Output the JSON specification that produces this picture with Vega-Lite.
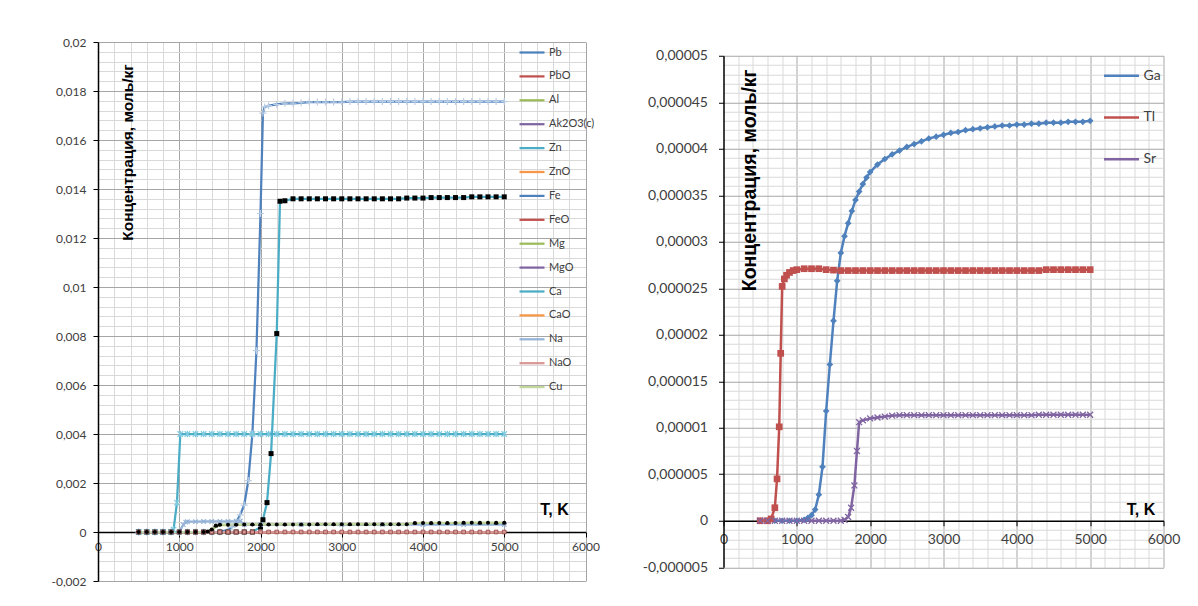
{
"$schema":"https://vega.github.io/schema/vega-lite/v6.json",
"background":"white",
"padding":{"left":50,"top":36,"right":5,"bottom":5},
"autosize":{"type":"pad"},
"config":{"font":"Lato","view":{"stroke":null}},
"bounds":"flush",
"center":true,
"spacing":137.5,
"resolve":{"scale":{"color":"independent"},"legend":{"color":"independent"}},
"datasets":{
"left":[
{"s":"Pb","T":500,"c":0},{"s":"Pb","T":600,"c":0},{"s":"Pb","T":700,"c":0},{"s":"Pb","T":800,"c":0},{"s":"Pb","T":900,"c":0},{"s":"Pb","T":1000,"c":0},{"s":"Pb","T":1100,"c":0},{"s":"Pb","T":1200,"c":0},{"s":"Pb","T":1300,"c":0},{"s":"Pb","T":1400,"c":0},{"s":"Pb","T":1500,"c":0},{"s":"Pb","T":1600,"c":0.0001},{"s":"Pb","T":1650,"c":0.0002},{"s":"Pb","T":1700,"c":0.0004},{"s":"Pb","T":1750,"c":0.0007},{"s":"Pb","T":1800,"c":0.0011},{"s":"Pb","T":1850,"c":0.0021},{"s":"Pb","T":1900,"c":0.004},{"s":"Pb","T":1950,"c":0.0074},{"s":"Pb","T":2000,"c":0.013},{"s":"Pb","T":2030,"c":0.0171},{"s":"Pb","T":2050,"c":0.01735},{"s":"Pb","T":2100,"c":0.0174},{"s":"Pb","T":2200,"c":0.01745},{"s":"Pb","T":2300,"c":0.0175},{"s":"Pb","T":2400,"c":0.0175},{"s":"Pb","T":2500,"c":0.01752},{"s":"Pb","T":2600,"c":0.01755},{"s":"Pb","T":2700,"c":0.01755},{"s":"Pb","T":2800,"c":0.01755},{"s":"Pb","T":2900,"c":0.01755},{"s":"Pb","T":3000,"c":0.01755},{"s":"Pb","T":3100,"c":0.01757},{"s":"Pb","T":3200,"c":0.01757},{"s":"Pb","T":3300,"c":0.01757},{"s":"Pb","T":3400,"c":0.01757},{"s":"Pb","T":3500,"c":0.01757},{"s":"Pb","T":3600,"c":0.01757},{"s":"Pb","T":3700,"c":0.01757},{"s":"Pb","T":3800,"c":0.01757},{"s":"Pb","T":3900,"c":0.01757},{"s":"Pb","T":4000,"c":0.01757},{"s":"Pb","T":4100,"c":0.01757},{"s":"Pb","T":4200,"c":0.01757},{"s":"Pb","T":4300,"c":0.01757},{"s":"Pb","T":4400,"c":0.01757},{"s":"Pb","T":4500,"c":0.01757},{"s":"Pb","T":4600,"c":0.01757},{"s":"Pb","T":4700,"c":0.01757},{"s":"Pb","T":4800,"c":0.01757},{"s":"Pb","T":4900,"c":0.01757},{"s":"Pb","T":5000,"c":0.01757},
{"s":"PbO","T":500,"c":0},{"s":"PbO","T":1000,"c":0},{"s":"PbO","T":1500,"c":0},{"s":"PbO","T":2000,"c":0},{"s":"PbO","T":2500,"c":0},{"s":"PbO","T":3000,"c":0},{"s":"PbO","T":3500,"c":0},{"s":"PbO","T":4000,"c":0},{"s":"PbO","T":4500,"c":0},{"s":"PbO","T":5000,"c":0},
{"s":"Al","T":500,"c":0},{"s":"Al","T":1000,"c":0},{"s":"Al","T":1500,"c":0},{"s":"Al","T":2000,"c":0},{"s":"Al","T":2500,"c":0},{"s":"Al","T":3000,"c":0},{"s":"Al","T":3500,"c":0},{"s":"Al","T":4000,"c":0},{"s":"Al","T":4500,"c":0},{"s":"Al","T":5000,"c":0},
{"s":"Ak2O3(c)","T":500,"c":0},{"s":"Ak2O3(c)","T":1000,"c":0},{"s":"Ak2O3(c)","T":1500,"c":0},{"s":"Ak2O3(c)","T":2000,"c":0},{"s":"Ak2O3(c)","T":2500,"c":0},{"s":"Ak2O3(c)","T":3000,"c":0},{"s":"Ak2O3(c)","T":3500,"c":0},{"s":"Ak2O3(c)","T":4000,"c":0},{"s":"Ak2O3(c)","T":4500,"c":0},{"s":"Ak2O3(c)","T":5000,"c":0},
{"s":"Zn","T":500,"c":0},{"s":"Zn","T":600,"c":0},{"s":"Zn","T":700,"c":0},{"s":"Zn","T":800,"c":0},{"s":"Zn","T":900,"c":0},{"s":"Zn","T":930,"c":0.0001},{"s":"Zn","T":972,"c":0.0012},{"s":"Zn","T":1013,"c":0.004},{"s":"Zn","T":1100,"c":0.004},{"s":"Zn","T":1200,"c":0.004},{"s":"Zn","T":1300,"c":0.004},{"s":"Zn","T":1400,"c":0.004},{"s":"Zn","T":1500,"c":0.004},{"s":"Zn","T":1600,"c":0.004},{"s":"Zn","T":1700,"c":0.004},{"s":"Zn","T":1800,"c":0.004},{"s":"Zn","T":1900,"c":0.004},{"s":"Zn","T":2000,"c":0.004},{"s":"Zn","T":2100,"c":0.004},{"s":"Zn","T":2200,"c":0.004},{"s":"Zn","T":2300,"c":0.004},{"s":"Zn","T":2400,"c":0.004},{"s":"Zn","T":2500,"c":0.004},{"s":"Zn","T":2600,"c":0.004},{"s":"Zn","T":2700,"c":0.004},{"s":"Zn","T":2800,"c":0.004},{"s":"Zn","T":2900,"c":0.004},{"s":"Zn","T":3000,"c":0.004},{"s":"Zn","T":3100,"c":0.004},{"s":"Zn","T":3200,"c":0.004},{"s":"Zn","T":3300,"c":0.004},{"s":"Zn","T":3400,"c":0.004},{"s":"Zn","T":3500,"c":0.004},{"s":"Zn","T":3600,"c":0.004},{"s":"Zn","T":3700,"c":0.004},{"s":"Zn","T":3800,"c":0.004},{"s":"Zn","T":3900,"c":0.004},{"s":"Zn","T":4000,"c":0.004},{"s":"Zn","T":4100,"c":0.004},{"s":"Zn","T":4200,"c":0.004},{"s":"Zn","T":4300,"c":0.004},{"s":"Zn","T":4400,"c":0.004},{"s":"Zn","T":4500,"c":0.004},{"s":"Zn","T":4600,"c":0.004},{"s":"Zn","T":4700,"c":0.004},{"s":"Zn","T":4800,"c":0.004},{"s":"Zn","T":4900,"c":0.004},{"s":"Zn","T":5000,"c":0.004},
{"s":"ZnO","T":500,"c":0},{"s":"ZnO","T":1000,"c":0},{"s":"ZnO","T":1500,"c":0},{"s":"ZnO","T":2000,"c":0},{"s":"ZnO","T":2500,"c":0},{"s":"ZnO","T":3000,"c":0},{"s":"ZnO","T":3500,"c":0},{"s":"ZnO","T":4000,"c":0},{"s":"ZnO","T":4500,"c":0},{"s":"ZnO","T":5000,"c":0},
{"s":"Fe","T":500,"c":0},{"s":"Fe","T":1000,"c":0},{"s":"Fe","T":1500,"c":0},{"s":"Fe","T":2000,"c":0},{"s":"Fe","T":2500,"c":0},{"s":"Fe","T":3000,"c":0},{"s":"Fe","T":3500,"c":0},{"s":"Fe","T":4000,"c":0},{"s":"Fe","T":4500,"c":0},{"s":"Fe","T":5000,"c":0},
{"s":"FeO","T":500,"c":0},{"s":"FeO","T":1000,"c":0},{"s":"FeO","T":1500,"c":0},{"s":"FeO","T":2000,"c":0},{"s":"FeO","T":2500,"c":0},{"s":"FeO","T":3000,"c":0},{"s":"FeO","T":3500,"c":0},{"s":"FeO","T":4000,"c":0},{"s":"FeO","T":4500,"c":0},{"s":"FeO","T":5000,"c":0},
{"s":"Mg","T":500,"c":0},{"s":"Mg","T":700,"c":0},{"s":"Mg","T":900,"c":0},{"s":"Mg","T":1100,"c":0},{"s":"Mg","T":1300,"c":0},{"s":"Mg","T":1400,"c":0.00008},{"s":"Mg","T":1450,"c":0.00022},{"s":"Mg","T":1500,"c":0.00028},{"s":"Mg","T":1700,"c":0.00029},{"s":"Mg","T":1900,"c":0.00029},{"s":"Mg","T":2100,"c":0.00029},{"s":"Mg","T":2300,"c":0.00029},{"s":"Mg","T":2500,"c":0.00029},{"s":"Mg","T":2700,"c":0.00029},{"s":"Mg","T":2900,"c":0.00029},{"s":"Mg","T":3100,"c":0.00029},{"s":"Mg","T":3300,"c":0.00029},{"s":"Mg","T":3500,"c":0.00029},{"s":"Mg","T":3700,"c":0.0003},{"s":"Mg","T":3900,"c":0.00034},{"s":"Mg","T":4100,"c":0.00034},{"s":"Mg","T":4300,"c":0.00034},{"s":"Mg","T":4500,"c":0.00034},{"s":"Mg","T":4700,"c":0.00034},{"s":"Mg","T":4900,"c":0.00034},{"s":"Mg","T":5000,"c":0.00034},
{"s":"MgO","T":500,"c":0},{"s":"MgO","T":1000,"c":0},{"s":"MgO","T":1500,"c":0},{"s":"MgO","T":2000,"c":0},{"s":"MgO","T":2500,"c":0},{"s":"MgO","T":3000,"c":0},{"s":"MgO","T":3500,"c":0},{"s":"MgO","T":4000,"c":0},{"s":"MgO","T":4500,"c":0},{"s":"MgO","T":5000,"c":0},
{"s":"Ca","T":500,"c":0},{"s":"Ca","T":600,"c":0},{"s":"Ca","T":700,"c":0},{"s":"Ca","T":800,"c":0},{"s":"Ca","T":900,"c":0},{"s":"Ca","T":1000,"c":0},{"s":"Ca","T":1100,"c":0},{"s":"Ca","T":1200,"c":0},{"s":"Ca","T":1300,"c":0},{"s":"Ca","T":1400,"c":0},{"s":"Ca","T":1500,"c":0},{"s":"Ca","T":1600,"c":0},{"s":"Ca","T":1700,"c":0},{"s":"Ca","T":1800,"c":0},{"s":"Ca","T":1900,"c":0},{"s":"Ca","T":2000,"c":0.0002},{"s":"Ca","T":2030,"c":0.0005},{"s":"Ca","T":2080,"c":0.0012},{"s":"Ca","T":2130,"c":0.0032},{"s":"Ca","T":2200,"c":0.0081},{"s":"Ca","T":2240,"c":0.0135},{"s":"Ca","T":2300,"c":0.01352},{"s":"Ca","T":2400,"c":0.0136},{"s":"Ca","T":2500,"c":0.0136},{"s":"Ca","T":2600,"c":0.0136},{"s":"Ca","T":2700,"c":0.0136},{"s":"Ca","T":2800,"c":0.0136},{"s":"Ca","T":2900,"c":0.0136},{"s":"Ca","T":3000,"c":0.0136},{"s":"Ca","T":3100,"c":0.0136},{"s":"Ca","T":3200,"c":0.0136},{"s":"Ca","T":3300,"c":0.0136},{"s":"Ca","T":3400,"c":0.0136},{"s":"Ca","T":3500,"c":0.0136},{"s":"Ca","T":3600,"c":0.0136},{"s":"Ca","T":3700,"c":0.0136},{"s":"Ca","T":3800,"c":0.01363},{"s":"Ca","T":3900,"c":0.01363},{"s":"Ca","T":4000,"c":0.01363},{"s":"Ca","T":4100,"c":0.01365},{"s":"Ca","T":4200,"c":0.01365},{"s":"Ca","T":4300,"c":0.01365},{"s":"Ca","T":4400,"c":0.01365},{"s":"Ca","T":4500,"c":0.01365},{"s":"Ca","T":4600,"c":0.01368},{"s":"Ca","T":4700,"c":0.01368},{"s":"Ca","T":4800,"c":0.01368},{"s":"Ca","T":4900,"c":0.01368},{"s":"Ca","T":5000,"c":0.01368},
{"s":"CaO","T":500,"c":0},{"s":"CaO","T":1000,"c":0},{"s":"CaO","T":1500,"c":0},{"s":"CaO","T":2000,"c":0},{"s":"CaO","T":2500,"c":0},{"s":"CaO","T":3000,"c":0},{"s":"CaO","T":3500,"c":0},{"s":"CaO","T":4000,"c":0},{"s":"CaO","T":4500,"c":0},{"s":"CaO","T":5000,"c":0},
{"s":"Na","T":500,"c":0},{"s":"Na","T":600,"c":0},{"s":"Na","T":700,"c":0},{"s":"Na","T":800,"c":0},{"s":"Na","T":900,"c":0},{"s":"Na","T":1000,"c":0},{"s":"Na","T":1050,"c":0.0003},{"s":"Na","T":1080,"c":0.0004},{"s":"Na","T":1100,"c":0.00042},{"s":"Na","T":1200,"c":0.00042},{"s":"Na","T":1300,"c":0.00043},{"s":"Na","T":1400,"c":0.00043},{"s":"Na","T":1500,"c":0.00043},{"s":"Na","T":1600,"c":0.00043},{"s":"Na","T":1700,"c":0.00044},{"s":"Na","T":1750,"c":0.00045},{"s":"Na","T":1800,"c":0.0003},{"s":"Na","T":2000,"c":0.0003},{"s":"Na","T":2500,"c":0.0003},{"s":"Na","T":3000,"c":0.0003},{"s":"Na","T":3500,"c":0.0003},{"s":"Na","T":4000,"c":0.0003},{"s":"Na","T":4500,"c":0.0003},{"s":"Na","T":5000,"c":0.0003},
{"s":"NaO","T":500,"c":0},{"s":"NaO","T":600,"c":0},{"s":"NaO","T":700,"c":0},{"s":"NaO","T":800,"c":0},{"s":"NaO","T":900,"c":0},{"s":"NaO","T":1000,"c":0},{"s":"NaO","T":1100,"c":0},{"s":"NaO","T":1200,"c":0},{"s":"NaO","T":1300,"c":0},{"s":"NaO","T":1400,"c":0},{"s":"NaO","T":1500,"c":0},{"s":"NaO","T":1600,"c":0},{"s":"NaO","T":1700,"c":0},{"s":"NaO","T":1800,"c":0},{"s":"NaO","T":1900,"c":0},{"s":"NaO","T":2000,"c":0},{"s":"NaO","T":2100,"c":0},{"s":"NaO","T":2200,"c":0},{"s":"NaO","T":2300,"c":0},{"s":"NaO","T":2400,"c":0},{"s":"NaO","T":2500,"c":0},{"s":"NaO","T":2600,"c":0},{"s":"NaO","T":2700,"c":0},{"s":"NaO","T":2800,"c":0},{"s":"NaO","T":2900,"c":0},{"s":"NaO","T":3000,"c":0},{"s":"NaO","T":3100,"c":0},{"s":"NaO","T":3200,"c":0},{"s":"NaO","T":3300,"c":0},{"s":"NaO","T":3400,"c":0},{"s":"NaO","T":3500,"c":0},{"s":"NaO","T":3600,"c":0},{"s":"NaO","T":3700,"c":0},{"s":"NaO","T":3800,"c":0},{"s":"NaO","T":3900,"c":0},{"s":"NaO","T":4000,"c":0},{"s":"NaO","T":4100,"c":0},{"s":"NaO","T":4200,"c":0},{"s":"NaO","T":4300,"c":0},{"s":"NaO","T":4400,"c":0},{"s":"NaO","T":4500,"c":0},{"s":"NaO","T":4600,"c":0},{"s":"NaO","T":4700,"c":0},{"s":"NaO","T":4800,"c":0},{"s":"NaO","T":4900,"c":0},{"s":"NaO","T":5000,"c":0},
{"s":"Cu","T":500,"c":0},{"s":"Cu","T":600,"c":0},{"s":"Cu","T":700,"c":0},{"s":"Cu","T":800,"c":0},{"s":"Cu","T":900,"c":0},{"s":"Cu","T":1000,"c":0},{"s":"Cu","T":1100,"c":0},{"s":"Cu","T":1200,"c":0},{"s":"Cu","T":1300,"c":0},{"s":"Cu","T":1350,"c":0.00002},{"s":"Cu","T":1400,"c":0.0001},{"s":"Cu","T":1450,"c":0.00027},{"s":"Cu","T":1500,"c":0.0003},{"s":"Cu","T":1600,"c":0.0003},{"s":"Cu","T":1700,"c":0.0003},{"s":"Cu","T":1800,"c":0.00031},{"s":"Cu","T":1900,"c":0.00031},{"s":"Cu","T":2000,"c":0.00031},{"s":"Cu","T":2100,"c":0.00031},{"s":"Cu","T":2200,"c":0.00031},{"s":"Cu","T":2300,"c":0.00031},{"s":"Cu","T":2400,"c":0.00031},{"s":"Cu","T":2500,"c":0.00031},{"s":"Cu","T":2600,"c":0.00031},{"s":"Cu","T":2700,"c":0.00032},{"s":"Cu","T":2800,"c":0.00032},{"s":"Cu","T":2900,"c":0.00032},{"s":"Cu","T":3000,"c":0.00032},{"s":"Cu","T":3100,"c":0.00032},{"s":"Cu","T":3200,"c":0.00032},{"s":"Cu","T":3300,"c":0.00032},{"s":"Cu","T":3400,"c":0.00032},{"s":"Cu","T":3500,"c":0.00032},{"s":"Cu","T":3600,"c":0.00032},{"s":"Cu","T":3700,"c":0.00032},{"s":"Cu","T":3800,"c":0.00032},{"s":"Cu","T":3900,"c":0.00037},{"s":"Cu","T":4000,"c":0.00037},{"s":"Cu","T":4100,"c":0.00037},{"s":"Cu","T":4200,"c":0.00037},{"s":"Cu","T":4300,"c":0.00037},{"s":"Cu","T":4400,"c":0.00037},{"s":"Cu","T":4500,"c":0.00038},{"s":"Cu","T":4600,"c":0.00038},{"s":"Cu","T":4700,"c":0.00038},{"s":"Cu","T":4800,"c":0.00038},{"s":"Cu","T":4900,"c":0.00038},{"s":"Cu","T":5000,"c":0.00038}
],
"right":[
{"s":"Ga","T":500,"c":0},{"s":"Ga","T":600,"c":0},{"s":"Ga","T":700,"c":0},{"s":"Ga","T":800,"c":0},{"s":"Ga","T":900,"c":0},{"s":"Ga","T":1000,"c":0},{"s":"Ga","T":1100,"c":1e-7},{"s":"Ga","T":1150,"c":3e-7},{"s":"Ga","T":1200,"c":6e-7},{"s":"Ga","T":1250,"c":1.2e-6},{"s":"Ga","T":1300,"c":2.8e-6},{"s":"Ga","T":1350,"c":5.8e-6},{"s":"Ga","T":1400,"c":1.18e-5},{"s":"Ga","T":1450,"c":1.68e-5},{"s":"Ga","T":1500,"c":2.15e-5},{"s":"Ga","T":1550,"c":2.58e-5},{"s":"Ga","T":1600,"c":2.88e-5},{"s":"Ga","T":1650,"c":3.06e-5},{"s":"Ga","T":1700,"c":3.2e-5},{"s":"Ga","T":1750,"c":3.33e-5},{"s":"Ga","T":1800,"c":3.45e-5},{"s":"Ga","T":1850,"c":3.54e-5},{"s":"Ga","T":1900,"c":3.62e-5},{"s":"Ga","T":1950,"c":3.69e-5},{"s":"Ga","T":2000,"c":3.75e-5},{"s":"Ga","T":2100,"c":3.83e-5},{"s":"Ga","T":2200,"c":3.89e-5},{"s":"Ga","T":2300,"c":3.94e-5},{"s":"Ga","T":2400,"c":3.98e-5},{"s":"Ga","T":2500,"c":4.02e-5},{"s":"Ga","T":2600,"c":4.05e-5},{"s":"Ga","T":2700,"c":4.08e-5},{"s":"Ga","T":2800,"c":4.11e-5},{"s":"Ga","T":2900,"c":4.13e-5},{"s":"Ga","T":3000,"c":4.15e-5},{"s":"Ga","T":3100,"c":4.17e-5},{"s":"Ga","T":3200,"c":4.18e-5},{"s":"Ga","T":3300,"c":4.2e-5},{"s":"Ga","T":3400,"c":4.21e-5},{"s":"Ga","T":3500,"c":4.22e-5},{"s":"Ga","T":3600,"c":4.23e-5},{"s":"Ga","T":3700,"c":4.24e-5},{"s":"Ga","T":3800,"c":4.25e-5},{"s":"Ga","T":3900,"c":4.25e-5},{"s":"Ga","T":4000,"c":4.26e-5},{"s":"Ga","T":4100,"c":4.26e-5},{"s":"Ga","T":4200,"c":4.27e-5},{"s":"Ga","T":4300,"c":4.27e-5},{"s":"Ga","T":4400,"c":4.28e-5},{"s":"Ga","T":4500,"c":4.28e-5},{"s":"Ga","T":4600,"c":4.28e-5},{"s":"Ga","T":4700,"c":4.29e-5},{"s":"Ga","T":4800,"c":4.29e-5},{"s":"Ga","T":4900,"c":4.29e-5},{"s":"Ga","T":5000,"c":4.3e-5},
{"s":"Tl","T":500,"c":0},{"s":"Tl","T":600,"c":0},{"s":"Tl","T":650,"c":2e-7},{"s":"Tl","T":700,"c":1.4e-6},{"s":"Tl","T":730,"c":4.5e-6},{"s":"Tl","T":760,"c":1.01e-5},{"s":"Tl","T":780,"c":1.8e-5},{"s":"Tl","T":800,"c":2.52e-5},{"s":"Tl","T":830,"c":2.6e-5},{"s":"Tl","T":860,"c":2.64e-5},{"s":"Tl","T":900,"c":2.67e-5},{"s":"Tl","T":950,"c":2.69e-5},{"s":"Tl","T":1000,"c":2.7e-5},{"s":"Tl","T":1100,"c":2.71e-5},{"s":"Tl","T":1200,"c":2.71e-5},{"s":"Tl","T":1300,"c":2.71e-5},{"s":"Tl","T":1400,"c":2.7e-5},{"s":"Tl","T":1500,"c":2.695e-5},{"s":"Tl","T":1600,"c":2.69e-5},{"s":"Tl","T":1700,"c":2.69e-5},{"s":"Tl","T":1800,"c":2.69e-5},{"s":"Tl","T":1900,"c":2.69e-5},{"s":"Tl","T":2000,"c":2.69e-5},{"s":"Tl","T":2100,"c":2.69e-5},{"s":"Tl","T":2200,"c":2.69e-5},{"s":"Tl","T":2300,"c":2.69e-5},{"s":"Tl","T":2400,"c":2.69e-5},{"s":"Tl","T":2500,"c":2.69e-5},{"s":"Tl","T":2600,"c":2.69e-5},{"s":"Tl","T":2700,"c":2.69e-5},{"s":"Tl","T":2800,"c":2.69e-5},{"s":"Tl","T":2900,"c":2.69e-5},{"s":"Tl","T":3000,"c":2.69e-5},{"s":"Tl","T":3100,"c":2.69e-5},{"s":"Tl","T":3200,"c":2.69e-5},{"s":"Tl","T":3300,"c":2.69e-5},{"s":"Tl","T":3400,"c":2.69e-5},{"s":"Tl","T":3500,"c":2.69e-5},{"s":"Tl","T":3600,"c":2.69e-5},{"s":"Tl","T":3700,"c":2.69e-5},{"s":"Tl","T":3800,"c":2.69e-5},{"s":"Tl","T":3900,"c":2.69e-5},{"s":"Tl","T":4000,"c":2.69e-5},{"s":"Tl","T":4100,"c":2.69e-5},{"s":"Tl","T":4200,"c":2.69e-5},{"s":"Tl","T":4300,"c":2.69e-5},{"s":"Tl","T":4400,"c":2.7e-5},{"s":"Tl","T":4500,"c":2.7e-5},{"s":"Tl","T":4600,"c":2.7e-5},{"s":"Tl","T":4700,"c":2.7e-5},{"s":"Tl","T":4800,"c":2.7e-5},{"s":"Tl","T":4900,"c":2.7e-5},{"s":"Tl","T":5000,"c":2.7e-5},
{"s":"Sr","T":500,"c":0},{"s":"Sr","T":600,"c":0},{"s":"Sr","T":700,"c":0},{"s":"Sr","T":800,"c":0},{"s":"Sr","T":900,"c":0},{"s":"Sr","T":1000,"c":0},{"s":"Sr","T":1100,"c":0},{"s":"Sr","T":1200,"c":0},{"s":"Sr","T":1300,"c":0},{"s":"Sr","T":1400,"c":0},{"s":"Sr","T":1500,"c":0},{"s":"Sr","T":1600,"c":0},{"s":"Sr","T":1650,"c":1e-7},{"s":"Sr","T":1700,"c":4e-7},{"s":"Sr","T":1740,"c":1.4e-6},{"s":"Sr","T":1785,"c":3.8e-6},{"s":"Sr","T":1820,"c":7.5e-6},{"s":"Sr","T":1850,"c":1.06e-5},{"s":"Sr","T":1900,"c":1.08e-5},{"s":"Sr","T":2000,"c":1.1e-5},{"s":"Sr","T":2100,"c":1.11e-5},{"s":"Sr","T":2200,"c":1.12e-5},{"s":"Sr","T":2300,"c":1.13e-5},{"s":"Sr","T":2400,"c":1.135e-5},{"s":"Sr","T":2500,"c":1.135e-5},{"s":"Sr","T":2600,"c":1.135e-5},{"s":"Sr","T":2700,"c":1.135e-5},{"s":"Sr","T":2800,"c":1.135e-5},{"s":"Sr","T":2900,"c":1.135e-5},{"s":"Sr","T":3000,"c":1.135e-5},{"s":"Sr","T":3100,"c":1.135e-5},{"s":"Sr","T":3200,"c":1.135e-5},{"s":"Sr","T":3300,"c":1.135e-5},{"s":"Sr","T":3400,"c":1.135e-5},{"s":"Sr","T":3500,"c":1.135e-5},{"s":"Sr","T":3600,"c":1.135e-5},{"s":"Sr","T":3700,"c":1.135e-5},{"s":"Sr","T":3800,"c":1.135e-5},{"s":"Sr","T":3900,"c":1.135e-5},{"s":"Sr","T":4000,"c":1.135e-5},{"s":"Sr","T":4100,"c":1.135e-5},{"s":"Sr","T":4200,"c":1.135e-5},{"s":"Sr","T":4300,"c":1.14e-5},{"s":"Sr","T":4400,"c":1.14e-5},{"s":"Sr","T":4500,"c":1.14e-5},{"s":"Sr","T":4600,"c":1.14e-5},{"s":"Sr","T":4700,"c":1.14e-5},{"s":"Sr","T":4800,"c":1.14e-5},{"s":"Sr","T":4900,"c":1.14e-5},{"s":"Sr","T":5000,"c":1.14e-5}
]
},
"hconcat":[
{
"width":487.5,"height":539,
"data":{"name":"left"},
"encoding":{
"x":{"field":"T","type":"quantitative","scale":{"domain":[0,6000],"nice":false,"zero":false},
"axis":{"values":[0,200,400,600,800,1000,1200,1400,1600,1800,2000,2200,2400,2600,2800,3000,3200,3400,3600,3800,4000,4200,4400,4600,4800,5000,5200,5400,5600,5800,6000],
"title":"T, K","titleX":456,"titleY":-23,"titleAlign":"center","titleBaseline":"middle","titleFont":"Liberation Sans","titleFontSize":16,"titleFontWeight":"bold","titleColor":"#000000",
"offset":-49,"domainColor":"#000000","domainWidth":1.5,"tickColor":"#000000","tickSize":5,
"tickOpacity":{"condition":{"test":"datum.value % 1000 == 0","value":1},"value":0},
"labelExpr":"datum.value % 1000 == 0 ? toString(datum.value) : ''","labelFontSize":12,"labelColor":"#404040","labelPadding":4,"labelOverlap":false,"labelFlush":false,
"grid":true,"gridWidth":1,"gridColor":{"condition":{"test":"datum.value % 1000 == 0","value":"#a6a6a6"},"value":"#d9d9d9"},
"gridOpacity":{"condition":{"test":"datum.value == 0","value":0},"value":1}}},
"y":{"field":"c","type":"quantitative","scale":{"domain":[-0.002,0.02],"nice":false,"zero":false},
"axis":{"values":[-0.002,-0.0016,-0.0012,-0.0008,-0.0004,0,0.0004,0.0008,0.0012,0.0016,0.002,0.0024,0.0028,0.0032,0.0036,0.004,0.0044,0.0048,0.0052,0.0056,0.006,0.0064,0.0068,0.0072,0.0076,0.008,0.0084,0.0088,0.0092,0.0096,0.01,0.0104,0.0108,0.0112,0.0116,0.012,0.0124,0.0128,0.0132,0.0136,0.014,0.0144,0.0148,0.0152,0.0156,0.016,0.0164,0.0168,0.0172,0.0176,0.018,0.0184,0.0188,0.0192,0.0196,0.02],
"title":"Концентрация,  моль/кг","titleAngle":270,"titleX":29,"titleY":110,"titleAlign":"center","titleBaseline":"middle","titleFont":"Liberation Sans","titleFontSize":15.5,"titleFontWeight":"bold","titleColor":"#000000",
"domainColor":"#000000","domainWidth":1.5,"tickColor":"#000000","tickSize":5,
"tickOpacity":{"condition":{"test":"round(datum.value*10000) % 20 == 0","value":1},"value":0},
"labelExpr":"round(datum.value*10000) % 20 == 0 ? replace(toString(datum.value), '.', ',') : ''","labelFontSize":12,"labelColor":"#404040","labelPadding":7,"labelOverlap":false,"labelFlush":false,
"grid":true,"gridWidth":1,"gridColor":{"condition":{"test":"round(datum.value*10000) % 20 == 0","value":"#a6a6a6"},"value":"#d9d9d9"},
"gridOpacity":{"condition":{"test":"datum.value == 0","value":0},"value":1}}}
},
"layer":[
{"mark":{"type":"line","strokeWidth":2.25},
"encoding":{"color":{"field":"s","type":"nominal",
"scale":{"domain":["Pb","PbO","Al","Ak2O3(c)","Zn","ZnO","Fe","FeO","Mg","MgO","Ca","CaO","Na","NaO","Cu"],
"range":["#4F81BD","#C0504D","#9BBB59","#8064A2","#4BACC6","#F79646","#4F81BD","#C0504D","#9BBB59","#8064A2","#4BACC6","#F79646","#95B3D7","#D99694","#C3D69B"]},
"legend":{"orient":"none","legendX":420,"legendY":-3.5,"title":null,"symbolType":"stroke","symbolSize":625,"symbolStrokeWidth":2.25,"labelFontSize":11,"labelColor":"#404040","rowPadding":4.9,"labelOffset":3,"labelLimit":200}}}},
{"transform":[{"filter":"datum.s == 'Pb'"}],"mark":{"type":"point","shape":"M-1,0L1,0M0,-1L0,1","filled":false,"stroke":"#b9cde5","strokeWidth":1.2,"size":50,"opacity":1}},
{"transform":[{"filter":"datum.s == 'Zn'"}],"mark":{"type":"point","shape":"M-1,-1L1,1M-1,1L1,-1M0,-1.2L0,1.2","filled":false,"stroke":"#7fcbe0","strokeWidth":1.2,"size":30,"opacity":1}},
{"transform":[{"filter":"datum.s == 'Mg'"}],"mark":{"type":"point","shape":"M-1,0L1,0","filled":false,"stroke":"#000000","strokeWidth":1.5,"size":20,"opacity":1}},
{"transform":[{"filter":"datum.s == 'Ca'"}],"mark":{"type":"point","shape":"square","filled":true,"fill":"#000000","size":25,"opacity":1}},
{"transform":[{"filter":"datum.s == 'Na'"}],"mark":{"type":"point","shape":"M-1,-1L1,1M-1,1L1,-1","filled":false,"stroke":"#95B3D7","strokeWidth":1.2,"size":20,"opacity":1}},
{"transform":[{"filter":"datum.s == 'NaO'"}],"mark":{"type":"point","shape":"square","filled":true,"fill":"#D99694","stroke":"#8f4a48","strokeWidth":0.8,"size":14,"opacity":1}},
{"transform":[{"filter":"datum.s == 'Cu'"}],"mark":{"type":"point","shape":"circle","filled":true,"fill":"#000000","size":16,"opacity":1}}
]
},
{
"width":440,"height":511.5,
"data":{"name":"right"},
"encoding":{
"x":{"field":"T","type":"quantitative","scale":{"domain":[0,6000],"nice":false,"zero":false},
"axis":{"values":[0,200,400,600,800,1000,1200,1400,1600,1800,2000,2200,2400,2600,2800,3000,3200,3400,3600,3800,4000,4200,4400,4600,4800,5000,5200,5400,5600,5800,6000],
"title":"T, K","titleX":417,"titleY":-11,"titleAlign":"center","titleBaseline":"middle","titleFont":"Liberation Sans","titleFontSize":16,"titleFontWeight":"bold","titleColor":"#000000",
"offset":-46.5,"domainColor":"#000000","domainWidth":1.5,"tickColor":"#000000","tickSize":5,
"tickOpacity":{"condition":{"test":"datum.value % 1000 == 0","value":1},"value":0},
"labelExpr":"datum.value % 1000 == 0 ? toString(datum.value) : ''","labelFontSize":14,"labelColor":"#404040","labelPadding":7,"labelOverlap":false,"labelFlush":false,
"grid":true,"gridWidth":1,"gridColor":{"condition":{"test":"datum.value % 1000 == 0","value":"#a6a6a6"},"value":"#d9d9d9"},
"gridOpacity":{"condition":{"test":"datum.value == 0","value":0},"value":1}}},
"y":{"field":"c","type":"quantitative","scale":{"domain":[-0.000005,0.00005],"nice":false,"zero":false},
"axis":{"values":[-5e-6,-4e-6,-3e-6,-2e-6,-1e-6,0,1e-6,2e-6,3e-6,4e-6,5e-6,6e-6,7e-6,8e-6,9e-6,1e-5,1.1e-5,1.2e-5,1.3e-5,1.4e-5,1.5e-5,1.6e-5,1.7e-5,1.8e-5,1.9e-5,2e-5,2.1e-5,2.2e-5,2.3e-5,2.4e-5,2.5e-5,2.6e-5,2.7e-5,2.8e-5,2.9e-5,3e-5,3.1e-5,3.2e-5,3.3e-5,3.4e-5,3.5e-5,3.6e-5,3.7e-5,3.8e-5,3.9e-5,4e-5,4.1e-5,4.2e-5,4.3e-5,4.4e-5,4.5e-5,4.6e-5,4.7e-5,4.8e-5,4.9e-5,5e-5],
"title":"Концентрация, моль/кг","titleAngle":270,"titleX":26,"titleY":124,"titleAlign":"center","titleBaseline":"middle","titleFont":"Liberation Sans","titleFontSize":19.5,"titleFontWeight":"bold","titleColor":"#000000",
"domainColor":"#000000","domainWidth":1.5,"tickColor":"#000000","tickSize":5,
"tickOpacity":{"condition":{"test":"round(datum.value*1000000) % 5 == 0","value":1},"value":0},
"labelExpr":"round(datum.value*1000000) % 5 == 0 ? replace(toString(datum.value), '.', ',') : ''","labelFontSize":14,"labelColor":"#404040","labelPadding":11,"labelOverlap":false,"labelFlush":false,
"grid":true,"gridWidth":1,"gridColor":{"condition":{"test":"round(datum.value*1000000) % 5 == 0","value":"#a6a6a6"},"value":"#d9d9d9"},
"gridOpacity":{"condition":{"test":"datum.value == 0","value":0},"value":1}}}
},
"layer":[
{"mark":{"type":"line","strokeWidth":2.5},
"encoding":{"color":{"field":"s","type":"nominal",
"scale":{"domain":["Ga","Tl","Sr"],"range":["#4F81BD","#C0504D","#8064A2"]},
"legend":{"orient":"none","legendX":379,"legendY":1,"title":null,"symbolType":"stroke","symbolSize":1225,"symbolStrokeWidth":2.5,"labelFontSize":14,"labelColor":"#404040","rowPadding":15.7,"labelOffset":3}}}},
{"transform":[{"filter":"datum.s == 'Ga'"}],"mark":{"type":"point","shape":"diamond","filled":true,"fill":"#4F81BD","size":45,"opacity":1}},
{"transform":[{"filter":"datum.s == 'Tl'"}],"mark":{"type":"point","shape":"square","filled":true,"fill":"#C0504D","size":45,"opacity":1}},
{"transform":[{"filter":"datum.s == 'Sr'"}],"mark":{"type":"point","shape":"M-1,-1L1,1M-1,1L1,-1","filled":false,"stroke":"#8064A2","strokeWidth":1.3,"size":35,"opacity":1}}
]
}
]
}
